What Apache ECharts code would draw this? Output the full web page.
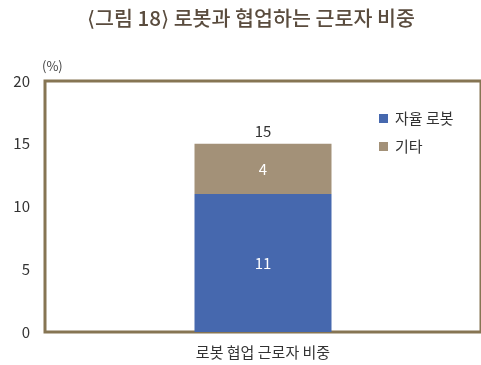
<!DOCTYPE html>
<html>
<head>
<meta charset="utf-8">
<script src="https://cdn.jsdelivr.net/npm/echarts@6/dist/echarts.min.js"></script>
<style>
  html, body { margin: 0; padding: 0; background: #fff; }
  #chart { width: 481px; height: 365px; }
</style>
</head>
<body>
<div id="chart"></div>
<script>
// 로봇과 협업하는 근로자 비중 (%)
const categories = ['로봇 협업 근로자 비중'];
const seriesNames = ['자율 로봇', '기타'];
const autonomousRobot = [11];
const others = [4];
const yTicks = [0, 5, 10, 15, 20];

const totals = categories.map((_, i) => autonomousRobot[i] + others[i]);
const font = '"Noto Sans CJK KR", "Noto Sans", sans-serif';

const chart = echarts.init(document.getElementById('chart'));
chart.setOption({
  animation: false,
  backgroundColor: '#ffffff',
  title: {
    text: '⟨그림 18⟩ 로봇과 협업하는 근로자 비중',
    left: 82,
    top: 3,
    textStyle: { fontFamily: font, fontSize: 20.6, fontWeight: 500, color: '#5a4c3e' }
  },
  legend: {
    orient: 'vertical',
    left: 374,
    top: 106,
    itemWidth: 9,
    itemHeight: 9,
    itemGap: 13,
    icon: 'rect',
    data: seriesNames,
    textStyle: { fontFamily: font, fontSize: 15, color: '#333', padding: [0, 0, 0, 2] }
  },
  grid: {
    left: 45, right: -4, top: 81, bottom: 33,
    show: true, borderColor: '#867553', borderWidth: 3, backgroundColor: 'transparent'
  },
  xAxis: {
    type: 'category',
    data: categories,
    axisLine: { show: false },
    axisTick: { show: false },
    axisLabel: { fontFamily: font, fontSize: 15, color: '#333', margin: 13 }
  },
  yAxis: {
    type: 'value',
    min: yTicks[0], max: yTicks[yTicks.length - 1], interval: 5,
    name: '(%)',
    nameLocation: 'end',
    nameGap: 8,
    nameTextStyle: { fontFamily: font, fontSize: 13, color: '#444', align: 'left', padding: [0, 0, 0, -3] },
    axisLine: { show: false },
    axisTick: { show: false },
    splitLine: { show: false },
    axisLabel: { fontFamily: font, fontSize: 15, color: '#333', margin: 15 }
  },
  series: [
    {
      name: seriesNames[0], type: 'bar', stack: 'total', barWidth: 137,
      data: autonomousRobot,
      itemStyle: { color: '#4668ae' },
      label: { show: true, position: 'inside', color: '#fff', fontFamily: font, fontSize: 15 }
    },
    {
      name: seriesNames[1], type: 'bar', stack: 'total', barWidth: 137,
      data: others,
      itemStyle: { color: '#a39178' },
      label: { show: true, position: 'inside', color: '#fff', fontFamily: font, fontSize: 15 }
    },
    {
      name: '합계', type: 'bar', stack: 'total', barWidth: 137,
      data: totals.map(() => 0),
      itemStyle: { color: 'transparent' },
      label: {
        show: true, position: 'top', distance: 5, color: '#333', fontFamily: font, fontSize: 15,
        formatter: p => String(totals[p.dataIndex])
      },
      tooltip: { show: false }
    }
  ]
});
</script>
</body>
</html>
